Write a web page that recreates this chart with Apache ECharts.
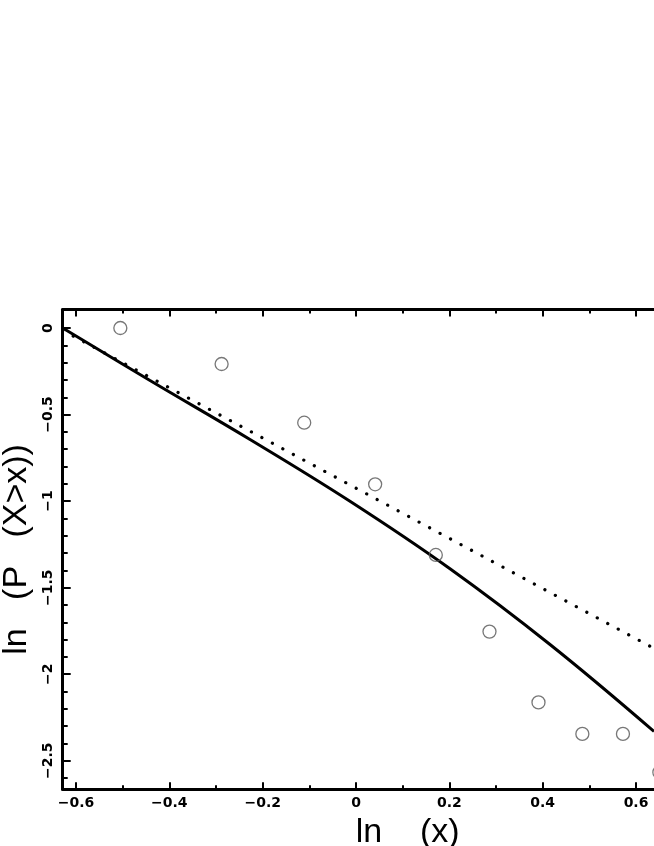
<!DOCTYPE html>
<html><head><meta charset="utf-8">
<script src="https://cdn.jsdelivr.net/npm/echarts@6/dist/echarts.min.js"></script>
<style>html,body{margin:0;padding:0;background:#fff}#c{width:654px;height:846px}</style>
</head><body><div id="c"></div>
<script>
// axis ranges and tick positions
const X_MIN = -0.6285, X_MAX = 0.85;
const Y_MIN = -2.665, Y_MAX = 0.107;
const xMajorTicks = [-0.6, -0.4, -0.2, 0, 0.2, 0.4, 0.6, 0.8];
const xMinorTicks = [-0.5, -0.3, -0.1, 0.1, 0.3, 0.5, 0.7];
const yMajorTicks = [0, -0.5, -1, -1.5, -2, -2.5];
const yMinorTicks = [-0.1, -0.2, -0.3, -0.4, -0.6, -0.7, -0.8, -0.9, -1.1, -1.2, -1.3, -1.4,
                     -1.6, -1.7, -1.8, -1.9, -2.1, -2.2, -2.3, -2.4, -2.6];

// empirical points (open circles)
const pointsX = [-0.505, -0.288, -0.111, 0.041, 0.171, 0.286, 0.391, 0.485, 0.572, 0.65];
const pointsY = [0.0, -0.208, -0.547, -0.903, -1.311, -1.754, -2.163, -2.345, -2.345, -2.567];

// solid fitted curve
const curveX = [-0.6285, -0.4414, -0.2271, -0.0129, 0.2014, 0.4157, 0.6385];
const curveY = [0.0, -0.3033, -0.6441, -1.0009, -1.3908, -1.8284, -2.3307];

// dotted straight line
const dotX = [-0.6285, 0.7];
const dotY = [-0.014, -1.94];

const zip = (a, b) => a.map((v, i) => [v, b[i]]);
const fmt = v => (v === 0 ? '0' : String(v).replace('-', '\u2212'));

const tickLine = {color: '#000', width: 2};
const labelFont = {fontFamily: 'DejaVu Sans', fontWeight: 'bold', fontSize: 14, color: '#000'};
const nameFont = {fontFamily: 'Liberation Sans', fontSize: 34, color: '#000'};

function xAx(pos, major, withLine, withLabel) {
  return {
    type: 'value', position: pos, min: X_MIN, max: X_MAX,
    axisLine: {show: withLine, onZero: false, lineStyle: {color: '#000', width: 3}},
    splitLine: {show: false},
    axisTick: {show: true, inside: true, length: major ? 7 : 4, lineStyle: tickLine,
               customValues: major ? xMajorTicks : xMinorTicks},
    axisLabel: Object.assign({show: withLabel, customValues: xMajorTicks, formatter: fmt, margin: 7}, labelFont),
    name: withLabel ? 'ln    (x)' : '',
    nameLocation: 'middle', nameGap: 16, nameTextStyle: nameFont
  };
}
function yAx(major, withLine, withLabel) {
  return {
    type: 'value', position: 'left', min: Y_MIN, max: Y_MAX,
    axisLine: {show: withLine, onZero: false, lineStyle: {color: '#000', width: 3}},
    splitLine: {show: false},
    axisTick: {show: true, inside: true, length: major ? 8 : 5, lineStyle: tickLine,
               customValues: major ? yMajorTicks : yMinorTicks},
    axisLabel: Object.assign({show: withLabel, customValues: yMajorTicks, formatter: fmt, rotate: 90, margin: 7}, labelFont),
    name: withLabel ? 'ln   (P   (X>x))' : '',
    nameLocation: 'middle', nameGap: 27, nameTextStyle: nameFont
  };
}

const chart = echarts.init(document.getElementById('c'), null, {renderer: 'canvas'});
chart.setOption({
  animation: false,
  backgroundColor: '#fff',
  grid: {left: 62.7, top: 309.5, bottom: 56.7, right: -98.7, containLabel: false, outerBoundsMode: 'none'},
  xAxis: [xAx('bottom', true, true, true), xAx('bottom', false, false, false),
          xAx('top', true, true, false), xAx('top', false, false, false)],
  yAxis: [yAx(true, true, true), yAx(false, false, false)],
  series: [
    {type: 'line', data: zip(curveX, curveY), showSymbol: false, smooth: 0.4,
     lineStyle: {color: '#000', width: 3}, z: 2},
    {type: 'line', data: zip(dotX, dotY), showSymbol: false,
     lineStyle: {color: '#000', width: 3.2, type: [0.1, 11.8], cap: 'round'}, z: 2},
    {type: 'scatter', data: zip(pointsX, pointsY), symbol: 'circle', symbolSize: 13,
     itemStyle: {color: 'rgba(0,0,0,0)', borderColor: '#555', borderWidth: 1.3}, z: 3}
  ]
});
</script></body></html>
